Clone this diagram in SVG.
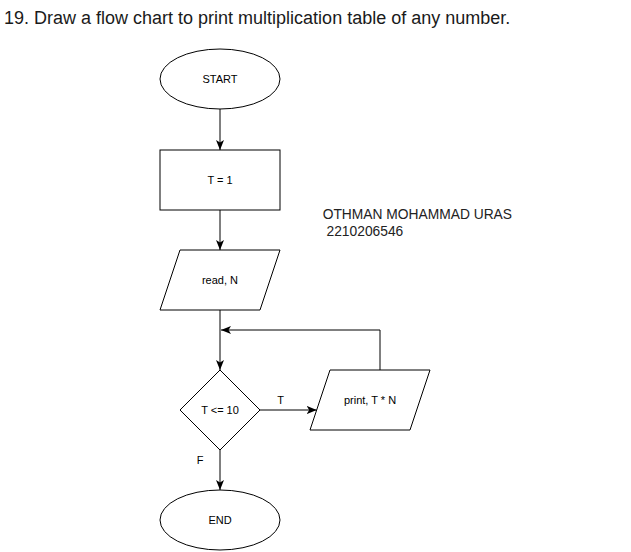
<svg xmlns="http://www.w3.org/2000/svg" width="631" height="552" viewBox="0 0 631 552">
<defs>
<marker id="arr" markerUnits="userSpaceOnUse" markerWidth="10" markerHeight="8" viewBox="0 0 10 8" refX="10" refY="4" orient="auto">
<path d="M0,0 L10,4 L0,8 L2.5,4 Z" fill="#000"/>
</marker>
<style>
.shape{fill:#fff;stroke:#000;stroke-width:1}
.lbl{font-family:"Liberation Sans",Arial,sans-serif;font-size:11px;fill:#000;text-anchor:middle}
.edge{fill:none;stroke:#000;stroke-width:1;marker-end:url(#arr)}
.note{font-family:"Liberation Sans",Arial,sans-serif;font-size:13.8px;fill:#222}
</style>
</defs>
<rect width="631" height="552" fill="#fff"/>
<text x="4" y="24" font-family="Liberation Sans, Arial, sans-serif" font-size="18" fill="#1a1a1a">19. Draw a flow chart to print multiplication table of any number.</text>

<g id="connectors">
<path class="edge" d="M220,109 L220,150"/>
<path class="edge" d="M220,210 L220,250"/>
<path class="edge" d="M220,310 L220,370"/>
<path class="edge" d="M220,450 L220,490"/>
<path class="edge" d="M260,410 L316.7,410"/>
<path class="edge" d="M380,370 L380,330 L221,330"/>
<text class="lbl" x="280.5" y="404">T</text>
<text class="lbl" x="200" y="464">F</text>
</g>

<g id="start">
<ellipse class="shape" cx="220" cy="79" rx="60" ry="30"/>
<text class="lbl" x="220" y="83">START</text>
</g>
<g id="init">
<rect class="shape" x="160" y="150" width="120" height="60"/>
<text class="lbl" x="220" y="184">T = 1</text>
</g>
<g id="read">
<polygon class="shape" points="180,250 280,250 260,310 160,310"/>
<text class="lbl" x="220" y="284">read, N</text>
</g>
<g id="decision">
<polygon class="shape" points="220,370 260,410 220,450 180,410"/>
<text class="lbl" x="220" y="414">T &lt;= 10</text>
</g>
<g id="print">
<polygon class="shape" points="330,370 430,370 410,430 310,430"/>
<text class="lbl" x="370" y="404">print, T * N</text>
</g>
<g id="end">
<ellipse class="shape" cx="220" cy="520" rx="60" ry="30"/>
<text class="lbl" x="220" y="524">END</text>
</g>
<g id="author">
<text class="note" x="322.7" y="219">OTHMAN MOHAMMAD URAS</text>
<text class="note" x="322.7" y="236" xml:space="preserve"> 2210206546</text>
</g>
</svg>
